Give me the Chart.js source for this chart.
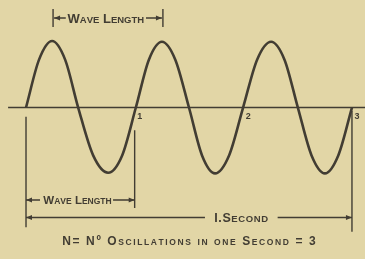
<!DOCTYPE html>
<html>
<head>
<meta charset="utf-8">
<script src="https://cdn.jsdelivr.net/npm/chart.js@4.4.1/dist/chart.umd.min.js"></script>
<style>
  html, body { margin: 0; padding: 0; background: #e2d6a6; }
  #wrap { width: 365px; height: 259px; }
</style>
</head>
<body>
<div id="wrap"><canvas id="grafico" width="365" height="259"></canvas></div>
<script>
// time in seconds along the wave
const seconds = [0, 0.040, 0.080, 0.120, 0.160, 0.206, 0.252, 0.295, 0.337,
  0.377, 0.417, 0.458, 0.500, 0.540, 0.580, 0.623, 0.666,
  0.709, 0.752, 0.793, 0.834, 0.876, 0.917, 0.958, 1.0];
// displacement (peak = 1)
const amplitude = [0, 0.72, 1, 0.72, 0, -0.72, -0.98, -0.72, 0,
  0.72, 0.99, 0.72, 0, -0.72, -0.99, -0.72, 0,
  0.72, 0.99, 0.72, 0, -0.72, -0.99, -0.72, 0];
// marks on the axis
const tickLabels = ['1', '2', '3'];
const tickSeconds = [1 / 3, 2 / 3, 1];

const ink = '#423d33';

function linha(pts, w) {
  return {
    data: pts, showLine: true, borderColor: ink, borderWidth: w,
    pointRadius: 0, fill: false
  };
}

// draws text in small capitals, centred on cx
function versalete(ctx, txt, cx, cy, grande, pequeno, esp) {
  const fam = '"Liberation Sans", Arial, sans-serif';
  esp = esp || 0;
  const partes = [];
  let total = 0;
  for (const c of txt) {
    const baixa = c !== c.toUpperCase();
    ctx.font = 'bold ' + (baixa ? pequeno : grande) + 'px ' + fam;
    const w = ctx.measureText(c.toUpperCase()).width + esp;
    partes.push([c.toUpperCase(), ctx.font, w]);
    total += w;
  }
  total -= esp;
  let x = cx - total / 2;
  ctx.textBaseline = 'alphabetic';
  ctx.textAlign = 'left';
  for (const [c, f, w] of partes) {
    ctx.font = f;
    ctx.fillText(c, x, cy);
    x += w;
  }
}

function ponta(ctx, x, y, dir) {
  ctx.beginPath();
  ctx.moveTo(x, y);
  ctx.lineTo(x - dir * 6, y - 2.5);
  ctx.lineTo(x - dir * 6, y + 2.5);
  ctx.closePath();
  ctx.fill();
}

function seta(ctx, x1, x2, y, g1, g2) {
  ctx.beginPath();
  ctx.moveTo(x1, y); ctx.lineTo(g1, y);
  ctx.moveTo(g2, y); ctx.lineTo(x2, y);
  ctx.stroke();
  ponta(ctx, x1, y, -1);
  ponta(ctx, x2, y, 1);
}

const anotacoes = {
  id: 'anotacoes',
  afterDatasetsDraw(chart) {
    const ctx = chart.ctx;
    const sx = chart.scales.x, sy = chart.scales.y;
    const X = v => sx.getPixelForValue(v);
    const Y = v => sy.getPixelForValue(v);
    ctx.save();
    ctx.strokeStyle = ink;
    ctx.fillStyle = ink;
    ctx.lineWidth = 1.4;

    // top: one wave length, crest to crest
    const ty = Y(1.346);
    ctx.beginPath();
    ctx.moveTo(X(0.083), ty - 9); ctx.lineTo(X(0.083), ty + 9);
    ctx.moveTo(X(0.420), ty - 9); ctx.lineTo(X(0.420), ty + 9);
    ctx.stroke();
    seta(ctx, X(0.083) + 1, X(0.420) - 1, ty, X(0.122), X(0.368));
    versalete(ctx, 'Wave Length', X(0.245), ty + 5, 13, 9.5);

    // bottom: wave length and one second
    const wy = Y(-1.391);
    seta(ctx, X(0), X(1 / 3), wy, X(0.043), X(0.267));
    versalete(ctx, 'Wave Length', X(0.158), wy + 4, 11.5, 8.5);

    const sy1 = Y(-1.654);
    seta(ctx, X(0), X(1), sy1, X(0.549), X(0.772));
    versalete(ctx, 'I.Second', X(0.660), sy1 + 4, 12.5, 9.5, 0.6);

    // numbers on the axis
    ctx.font = 'bold 9px "Liberation Sans", Arial, sans-serif';
    ctx.textAlign = 'center';
    ctx.textBaseline = 'middle';
    tickSeconds.forEach((s, i) => {
      ctx.fillText(tickLabels[i], X(s) + 5, Y(-0.14));
    });

    versalete(ctx, 'N= Nº Oscillations in one Second = 3', X(0.50), Y(-2.07), 12, 8.5, 1.6);
    ctx.restore();
  }
};

const grafico = new Chart(document.getElementById('grafico').getContext('2d'), {
  type: 'scatter',
  data: {
    datasets: [
      Object.assign(linha(seconds.map((s, i) => ({ x: s, y: amplitude[i] })), 2.6),
        { cubicInterpolationMode: 'monotone' }),
      linha([{ x: -0.055, y: 0 }, { x: 1.04, y: 0 }], 1.6),
      linha([{ x: 0, y: -0.14 }, { x: 0, y: -1.80 }], 1.4),
      linha([{ x: 1 / 3, y: -0.34 }, { x: 1 / 3, y: -1.51 }], 1.4),
      linha([{ x: 1, y: -0.05 }, { x: 1, y: -1.87 }], 1.4)
    ]
  },
  options: {
    responsive: false,
    animation: false,
    layout: { padding: 0 },
    plugins: { legend: { display: false }, tooltip: { enabled: false } },
    scales: {
      x: { type: 'linear', display: false, min: -0.0798, max: 1.040 },
      y: { type: 'linear', display: false, min: -2.278, max: 1.617 }
    }
  },
  plugins: [anotacoes]
});
</script>
</body>
</html>
